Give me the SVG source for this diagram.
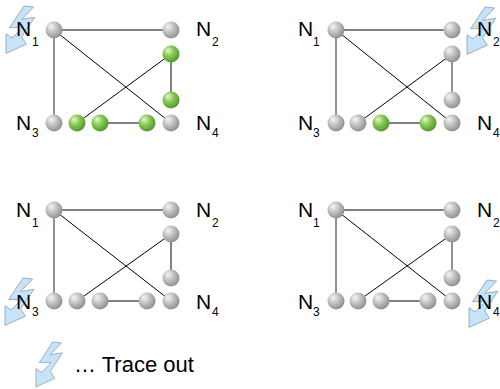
<svg xmlns="http://www.w3.org/2000/svg" width="500" height="389" viewBox="0 0 500 389">
<style>
.ln{stroke:#000;stroke-width:1;fill:none}
.lg{stroke:#777;stroke-width:1.6;fill:none}
.lbl{font-family:"Liberation Sans",Arial,sans-serif;font-size:21px;fill:#000}
.sub{font-size:12px}
.legend{font-family:"Liberation Sans",Arial,sans-serif;font-size:22px;fill:#000}
.g{fill:url(#gray)}
.gr{fill:url(#green)}
.bolt{fill:#c8e3f7;stroke:#8ea6bf;stroke-width:0.8}
</style>
<defs>
<radialGradient id="gray" cx="0.4" cy="0.38" r="0.65" fx="0.32" fy="0.28">
<stop offset="0" stop-color="#f6f6f6"/>
<stop offset="0.45" stop-color="#c6c6c6"/>
<stop offset="1" stop-color="#8c8c8c"/>
</radialGradient>
<radialGradient id="green" cx="0.4" cy="0.38" r="0.65" fx="0.32" fy="0.28">
<stop offset="0" stop-color="#e6f7d2"/>
<stop offset="0.45" stop-color="#8ccb58"/>
<stop offset="1" stop-color="#4b9628"/>
</radialGradient>
<path id="boltShape" d="M15,0 L23,1 L13,13 L24,11 L13,30 L17,37 L0,46 L0,27 L5,31 L14,21 L3,21 Z"/>
</defs>

<!-- Panel A: top-left -->
<g id="panelA">
<g id="panelA-connectors">
<line class="ln" x1="54" y1="30" x2="171" y2="30"/>
<line class="lg" x1="54" y1="30" x2="54" y2="123"/>
<line class="ln" x1="54" y1="30" x2="171" y2="123"/>
<line class="ln" x1="171" y1="54" x2="77" y2="123"/>
<line class="ln" x1="171" y1="54" x2="171" y2="100"/>
<line class="ln" x1="100" y1="123" x2="147" y2="123"/>
</g>
<use href="#boltShape" class="bolt" transform="translate(6,6) scale(1.2,1.03)"/>
<g id="A-N1"><circle class="g" cx="54" cy="30" r="8.5"/><text class="lbl" x="16" y="36">N<tspan class="sub" x="32" y="46">1</tspan></text></g>
<g id="A-N2"><circle class="g" cx="171" cy="30" r="8.5"/><text class="lbl" x="196" y="36">N<tspan class="sub" x="212" y="46">2</tspan></text></g>
<g id="A-a"><circle class="gr" cx="171" cy="54" r="8.5"/></g>
<g id="A-b"><circle class="gr" cx="171" cy="100" r="8.5"/></g>
<g id="A-N3"><circle class="g" cx="54" cy="123" r="8.5"/><text class="lbl" x="16" y="130">N<tspan class="sub" x="32" y="137">3</tspan></text></g>
<g id="A-c"><circle class="gr" cx="77" cy="123" r="8.5"/></g>
<g id="A-d"><circle class="gr" cx="100" cy="123" r="8.5"/></g>
<g id="A-e"><circle class="gr" cx="147" cy="123" r="8.5"/></g>
<g id="A-N4"><circle class="g" cx="171" cy="123" r="8.5"/><text class="lbl" x="196" y="130">N<tspan class="sub" x="212" y="137">4</tspan></text></g>
</g>

<!-- Panel B: top-right -->
<g id="panelB">
<g id="panelB-connectors">
<line class="ln" x1="336" y1="30" x2="452" y2="30"/>
<line class="lg" x1="336" y1="30" x2="336" y2="123"/>
<line class="ln" x1="336" y1="30" x2="452" y2="123"/>
<line class="ln" x1="452" y1="54" x2="358" y2="123"/>
<line class="lg" x1="452" y1="54" x2="452" y2="100"/>
<line class="ln" x1="381" y1="123" x2="428" y2="123"/>
</g>
<use href="#boltShape" class="bolt" transform="translate(467,7) scale(1.2,1.03)"/>
<g id="B-N1"><circle class="g" cx="336" cy="30" r="8.5"/><text class="lbl" x="298" y="36">N<tspan class="sub" x="313" y="46">1</tspan></text></g>
<g id="B-N2"><circle class="g" cx="452" cy="30" r="8.5"/><text class="lbl" x="477" y="36">N<tspan class="sub" x="493" y="46">2</tspan></text></g>
<g id="B-a"><circle class="g" cx="452" cy="54" r="8.5"/></g>
<g id="B-b"><circle class="g" cx="452" cy="100" r="8.5"/></g>
<g id="B-N3"><circle class="g" cx="336" cy="123" r="8.5"/><text class="lbl" x="298" y="130">N<tspan class="sub" x="313" y="137">3</tspan></text></g>
<g id="B-c"><circle class="g" cx="358" cy="123" r="8.5"/></g>
<g id="B-d"><circle class="gr" cx="381" cy="123" r="8.5"/></g>
<g id="B-e"><circle class="gr" cx="428" cy="123" r="8.5"/></g>
<g id="B-N4"><circle class="g" cx="452" cy="123" r="8.5"/><text class="lbl" x="477" y="130">N<tspan class="sub" x="493" y="137">4</tspan></text></g>
</g>

<!-- Panel C: bottom-left -->
<g id="panelC">
<g id="panelC-connectors">
<line class="ln" x1="54" y1="210" x2="171" y2="210"/>
<line class="lg" x1="54" y1="210" x2="54" y2="301"/>
<line class="ln" x1="54" y1="210" x2="171" y2="301"/>
<line class="ln" x1="171" y1="234" x2="77" y2="301"/>
<line class="ln" x1="171" y1="234" x2="171" y2="278"/>
<line class="ln" x1="100" y1="301" x2="147" y2="301"/>
</g>
<use href="#boltShape" class="bolt" transform="translate(5,278) scale(1.2,1.03)"/>
<g id="C-N1"><circle class="g" cx="54" cy="210" r="8.5"/><text class="lbl" x="16" y="217">N<tspan class="sub" x="32" y="227">1</tspan></text></g>
<g id="C-N2"><circle class="g" cx="171" cy="210" r="8.5"/><text class="lbl" x="196" y="217">N<tspan class="sub" x="212" y="227">2</tspan></text></g>
<g id="C-a"><circle class="g" cx="171" cy="234" r="8.5"/></g>
<g id="C-b"><circle class="g" cx="171" cy="278" r="8.5"/></g>
<g id="C-N3"><circle class="g" cx="54" cy="301" r="8.5"/><text class="lbl" x="16" y="309">N<tspan class="sub" x="32" y="316">3</tspan></text></g>
<g id="C-c"><circle class="g" cx="77" cy="301" r="8.5"/></g>
<g id="C-d"><circle class="g" cx="100" cy="301" r="8.5"/></g>
<g id="C-e"><circle class="g" cx="147" cy="301" r="8.5"/></g>
<g id="C-N4"><circle class="g" cx="171" cy="301" r="8.5"/><text class="lbl" x="196" y="309">N<tspan class="sub" x="212" y="316">4</tspan></text></g>
</g>

<!-- Panel D: bottom-right -->
<g id="panelD">
<g id="panelD-connectors">
<line class="ln" x1="336" y1="210" x2="452" y2="210"/>
<line class="lg" x1="336" y1="210" x2="336" y2="301"/>
<line class="ln" x1="336" y1="210" x2="452" y2="301"/>
<line class="ln" x1="452" y1="234" x2="358" y2="301"/>
<line class="lg" x1="452" y1="234" x2="452" y2="278"/>
<line class="ln" x1="381" y1="301" x2="428" y2="301"/>
</g>
<use href="#boltShape" class="bolt" transform="translate(469,280) scale(1.2,1.03)"/>
<g id="D-N1"><circle class="g" cx="336" cy="210" r="8.5"/><text class="lbl" x="298" y="217">N<tspan class="sub" x="313" y="227">1</tspan></text></g>
<g id="D-N2"><circle class="g" cx="452" cy="210" r="8.5"/><text class="lbl" x="477" y="217">N<tspan class="sub" x="493" y="227">2</tspan></text></g>
<g id="D-a"><circle class="g" cx="452" cy="234" r="8.5"/></g>
<g id="D-b"><circle class="g" cx="452" cy="278" r="8.5"/></g>
<g id="D-N3"><circle class="g" cx="336" cy="301" r="8.5"/><text class="lbl" x="298" y="309">N<tspan class="sub" x="313" y="316">3</tspan></text></g>
<g id="D-c"><circle class="g" cx="358" cy="301" r="8.5"/></g>
<g id="D-d"><circle class="g" cx="381" cy="301" r="8.5"/></g>
<g id="D-e"><circle class="g" cx="428" cy="301" r="8.5"/></g>
<g id="D-N4"><circle class="g" cx="452" cy="301" r="8.5"/><text class="lbl" x="477" y="309">N<tspan class="sub" x="493" y="316">4</tspan></text></g>
</g>

<!-- Legend -->
<g id="legend">
<use href="#boltShape" class="bolt" transform="translate(36,342) scale(1.1,0.98)"/>
<text class="legend" x="74" y="372">… Trace out</text>
</g>
</svg>
